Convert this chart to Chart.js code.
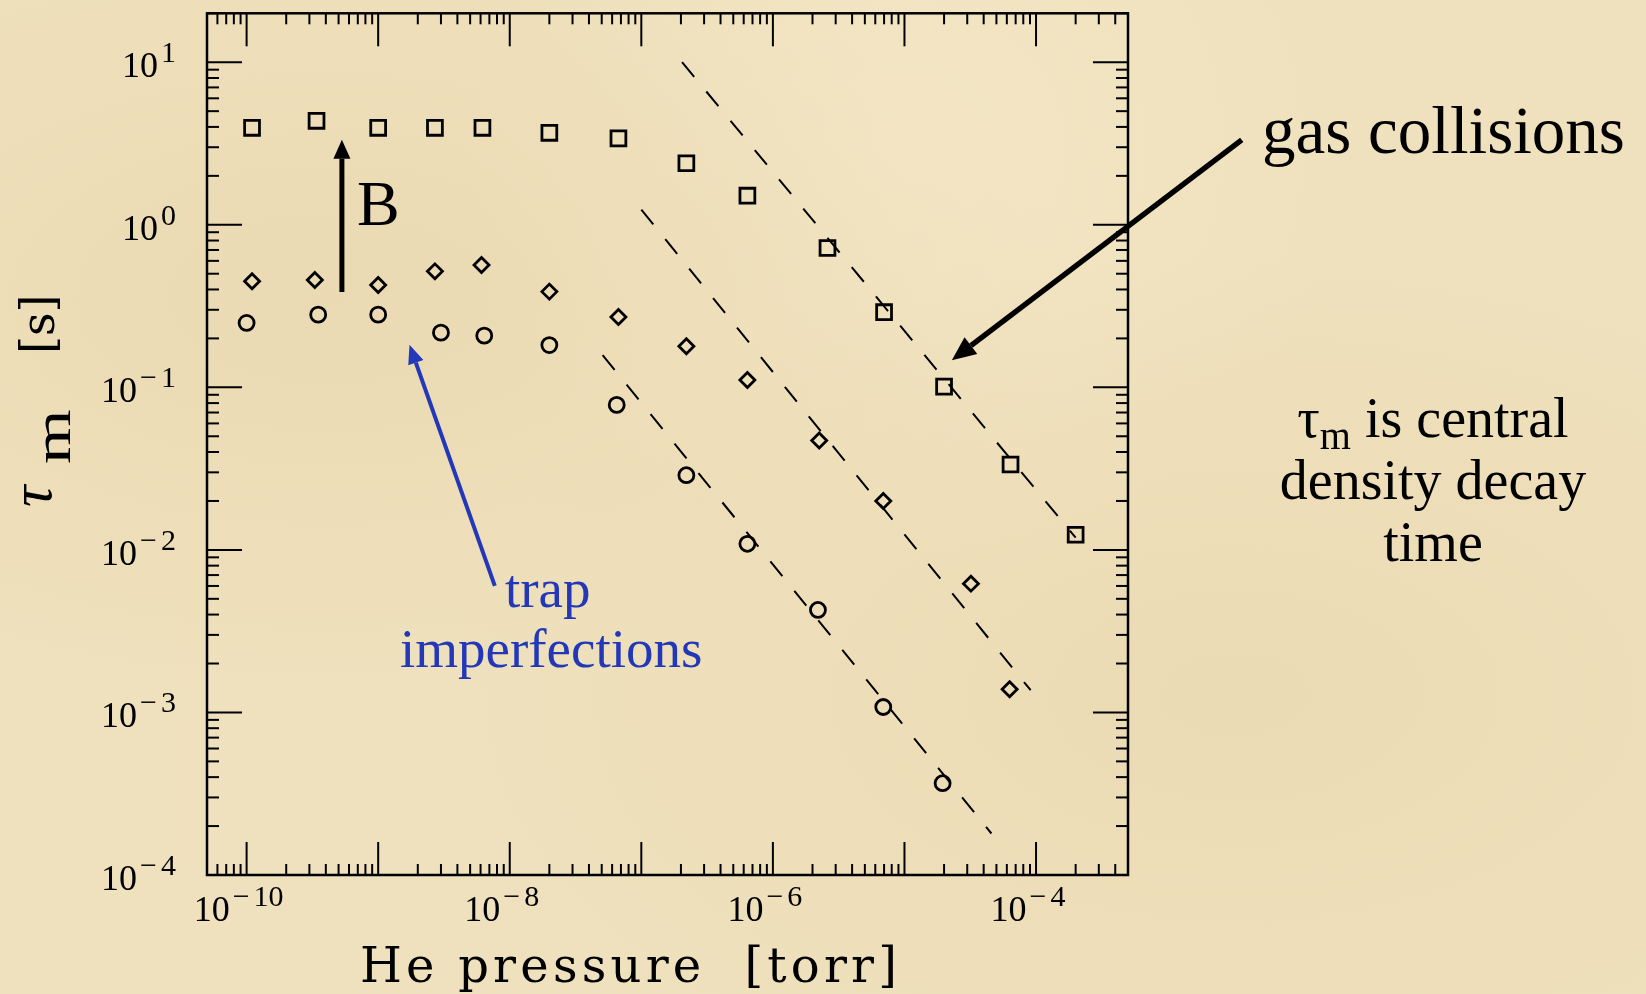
<!DOCTYPE html>
<html lang="en">
<head>
<meta charset="UTF-8">
<title>Decay time vs He pressure</title>
<style>
  html, body {
    margin: 0;
    padding: 0;
    background-color: #eee0bb;
  }
  #wrap {
    width: 1646px;
    height: 994px;
    background:
      radial-gradient(ellipse at 20% 30%, rgba(226, 204, 160, 0.35), transparent 40%),
      radial-gradient(ellipse at 75% 70%, rgba(226, 204, 160, 0.30), transparent 45%),
      radial-gradient(ellipse at 55% 15%, rgba(248, 236, 205, 0.45), transparent 35%),
      #efe1bd;
  }
  canvas { display: block; }
</style>
<script src="https://cdn.jsdelivr.net/npm/chart.js"></script>
</head>
<body>
<div id="wrap"><canvas id="tauChart" width="1646" height="994"></canvas></div>
<script>
// tau_m [s] against He pressure [torr], three field settings
const squareP   = [1.1e-10, 3.4e-10, 1.0e-9, 2.7e-9, 6.2e-9, 2.0e-8, 6.7e-8, 2.2e-7, 6.4e-7, 2.6e-6, 7.0e-6, 2.0e-5, 6.4e-5, 2.0e-4];
const squareTau = [3.95, 4.36, 3.95, 3.95, 3.95, 3.68, 3.40, 2.39, 1.51, 0.72, 0.29, 0.101, 0.0335, 0.0124];

const diamondP   = [1.1e-10, 3.3e-10, 1.0e-9, 2.7e-9, 6.1e-9, 2.0e-8, 6.7e-8, 2.2e-7, 6.4e-7, 2.25e-6, 6.9e-6, 3.2e-5, 6.3e-5];
const diamondTau = [0.449, 0.457, 0.426, 0.517, 0.565, 0.388, 0.271, 0.179, 0.111, 0.0471, 0.020, 0.0062, 0.00139];

const circleP   = [1.0e-10, 3.5e-10, 1.0e-9, 3.0e-9, 6.4e-9, 2.0e-8, 6.5e-8, 2.2e-7, 6.4e-7, 2.2e-6, 6.9e-6, 1.95e-5];
const circleTau = [0.249, 0.280, 0.280, 0.217, 0.208, 0.182, 0.078, 0.0288, 0.0109, 0.00427, 0.00108, 0.000367];

// 1/P gas-collision lines (end points)
const fitSquareP = [2.04e-7, 2.0e-4],  fitSquareTau = [10, 0.0119];
const fitDiamondP = [1.0e-7, 9.1e-5],  fitDiamondTau = [1.24, 0.00137];
const fitCircleP = [5.08e-8, 4.58e-5], fitCircleTau = [0.158, 0.00018];

// axis ranges and labelled decades
const xRange = [5e-11, 5e-4];
const yRange = [1e-4, 20];
const xLabelExps = [-10, -8, -6, -4];
const yLabelExps = [-4, -3, -2, -1, 0, 1];

// annotation arrows, in data units
const arrowB = [[5.3e-10, 0.386], [5.3e-10, 3.33]];
const arrowTrap = [[7.7e-9, 0.0060], [1.73e-9, 0.183]];
const arrowGas = [[3.66e-3, 3.33], [2.29e-5, 0.147]];

const SERIF = '"Liberation Serif", "Times New Roman", serif';
const SLAB = '"DejaVu Serif", serif';

function pts(xs, ys) {
  return xs.map((v, i) => ({ x: v, y: ys[i] }));
}

function fitLine(xs, ys) {
  return {
    data: pts(xs, ys),
    showLine: true,
    borderColor: '#000',
    borderWidth: 2,
    borderDash: [19, 19],
    pointRadius: 0,
    fill: false
  };
}

function marker(xs, ys, style, r) {
  return {
    data: pts(xs, ys),
    showLine: false,
    pointStyle: style,
    pointRadius: r,
    pointBorderWidth: 2.8,
    pointBorderColor: '#000',
    pointBackgroundColor: 'rgba(0,0,0,0)'
  };
}

function line(ctx, x1, y1, x2, y2) {
  ctx.beginPath();
  ctx.moveTo(x1, y1);
  ctx.lineTo(x2, y2);
  ctx.stroke();
}

function arrow(ctx, x1, y1, x2, y2, lw, headLen, headW, color) {
  const ang = Math.atan2(y2 - y1, x2 - x1);
  const bx = x2 - headLen * Math.cos(ang), by = y2 - headLen * Math.sin(ang);
  ctx.strokeStyle = color;
  ctx.fillStyle = color;
  ctx.lineWidth = lw;
  line(ctx, x1, y1, bx, by);
  ctx.beginPath();
  ctx.moveTo(x2, y2);
  ctx.lineTo(bx + headW / 2 * Math.sin(ang), by - headW / 2 * Math.cos(ang));
  ctx.lineTo(bx - headW / 2 * Math.sin(ang), by + headW / 2 * Math.cos(ang));
  ctx.closePath();
  ctx.fill();
}

// "10" with a raised exponent; the minus gets a little extra room
function powerLabel(ctx, exp, x, base, align) {
  const main = '10';
  const neg = exp < 0;
  const digits = String(Math.abs(exp));
  ctx.font = '36px ' + SERIF;
  const mw = ctx.measureText(main).width;
  ctx.font = '30px ' + SERIF;
  const minusW = neg ? ctx.measureText('\u2212').width + 4 : 0;
  const dw = ctx.measureText(digits).width;
  const total = mw + 3 + minusW + dw;
  const left = align === 'right' ? x - total : x - total / 2;
  ctx.textAlign = 'left';
  ctx.font = '36px ' + SERIF;
  ctx.fillText(main, left, base);
  ctx.font = '30px ' + SERIF;
  if (neg) ctx.fillText('\u2212', left + mw + 3, base - 15);
  ctx.fillText(digits, left + mw + 3 + minusW, base - 15);
}

// text spread out to a given width, one glyph at a time
function spacedText(ctx, text, left, base, width) {
  const chars = [...text];
  const widths = chars.map(c => ctx.measureText(c).width);
  const natural = widths.reduce((a, b) => a + b, 0);
  const gap = (width - natural) / (chars.length - 1);
  let x = left;
  chars.forEach((c, i) => {
    ctx.fillText(c, x, base);
    x += widths[i] + gap;
  });
}

function rotatedText(ctx, text, font, baseX, startY, stretch) {
  ctx.save();
  ctx.font = font;
  ctx.translate(baseX, startY);
  ctx.rotate(-Math.PI / 2);
  if (stretch) ctx.scale(stretch, 1);
  ctx.textAlign = 'left';
  ctx.fillText(text, 0, 0);
  ctx.restore();
}

const axesPlugin = {
  id: 'boxAxes',
  afterDatasetsDraw(chart) {
    const { ctx, chartArea: a, scales: { x, y } } = chart;
    ctx.save();
    ctx.strokeStyle = '#000';
    ctx.fillStyle = '#000';

    // tick marks on all four sides, pointing inwards
    ctx.lineWidth = 2;
    for (let d = -11; d <= -3; d++) {
      for (let k = 1; k <= 9; k++) {
        const v = k * Math.pow(10, d);
        if (v < xRange[0] * 0.999 || v > xRange[1] * 1.001) continue;
        const px = x.getPixelForValue(v);
        const len = k === 1 ? 33 : 11;
        line(ctx, px, a.bottom, px, a.bottom - len);
        line(ctx, px, a.top, px, a.top + len);
      }
    }
    for (let d = -4; d <= 1; d++) {
      for (let k = 1; k <= 9; k++) {
        const v = k * Math.pow(10, d);
        if (v < yRange[0] * 0.999 || v > yRange[1] * 1.001) continue;
        const py = y.getPixelForValue(v);
        const len = k === 1 ? 35 : 12;
        line(ctx, a.left, py, a.left + len, py);
        line(ctx, a.right, py, a.right - len, py);
      }
    }

    // frame
    ctx.lineWidth = 2.5;
    ctx.strokeRect(a.left, a.top, a.right - a.left, a.bottom - a.top);

    // tick labels
    xLabelExps.forEach(e => {
      powerLabel(ctx, e, x.getPixelForValue(Math.pow(10, e)) - 8, a.bottom + 46, 'center');
    });
    yLabelExps.forEach(e => {
      powerLabel(ctx, e, a.left - 31, y.getPixelForValue(Math.pow(10, e)) + 15, 'right');
    });

    // axis titles
    ctx.font = '48px ' + SLAB;
    ctx.textAlign = 'left';
    spacedText(ctx, 'He pressure  [torr]', 360, 982, 537);

    rotatedText(ctx, '\u03c4', 'italic 60px ' + SERIF, 51, 507);
    rotatedText(ctx, 'm', '52px ' + SERIF, 70, 464, 1.35);
    rotatedText(ctx, '[s]', '46px ' + SLAB, 54, 354);

    // arrows
    const p = v => [x.getPixelForValue(v[0]), y.getPixelForValue(v[1])];
    let s = p(arrowB[0]), t = p(arrowB[1]);
    arrow(ctx, s[0], s[1], t[0], t[1], 5, 19, 17, '#000');
    s = p(arrowTrap[0]); t = p(arrowTrap[1]);
    arrow(ctx, s[0], s[1], t[0], t[1], 4, 19, 16, '#2238b8');
    s = p(arrowGas[0]); t = p(arrowGas[1]);
    arrow(ctx, s[0], s[1], t[0], t[1], 5.5, 24, 21, '#000');

    // slide text
    ctx.fillStyle = '#000';
    ctx.textAlign = 'left';
    ctx.font = '64px ' + SERIF;
    ctx.fillText('B', 357, 225);

    ctx.font = '67px ' + SERIF;
    ctx.fillText('gas collisions', 1262, 153);

    ctx.fillStyle = '#2238b8';
    ctx.font = '55px ' + SERIF;
    ctx.fillText('trap', 505, 607);
    ctx.fillText('imperfections', 400, 667);

    ctx.fillStyle = '#000';
    ctx.font = '56px ' + SERIF;
    const cx = 1433;
    const tau = '\u03c4', rest = ' is central';
    const tw = ctx.measureText(tau).width, rw = ctx.measureText(rest).width;
    ctx.font = '40px ' + SERIF;
    const mw = ctx.measureText('m').width;
    const l0 = cx - (tw + mw + rw) / 2;
    ctx.font = '56px ' + SERIF;
    ctx.fillText(tau, l0, 437);
    ctx.fillText(rest, l0 + tw + mw, 437);
    ctx.font = '40px ' + SERIF;
    ctx.fillText('m', l0 + tw, 449);
    ctx.font = '56px ' + SERIF;
    ctx.textAlign = 'center';
    ctx.fillText('density decay', cx, 499);
    ctx.fillText('time', cx, 561);

    ctx.restore();
  }
};

new Chart(document.getElementById('tauChart'), {
  type: 'scatter',
  data: {
    datasets: [
      fitLine(fitSquareP, fitSquareTau),
      fitLine(fitDiamondP, fitDiamondTau),
      fitLine(fitCircleP, fitCircleTau),
      marker(squareP, squareTau, 'rect', 10.5),
      marker(diamondP, diamondTau, 'rectRot', 7.5),
      marker(circleP, circleTau, 'circle', 7.5)
    ]
  },
  options: {
    responsive: false,
    animation: false,
    devicePixelRatio: 1,
    layout: { padding: { left: 207, right: 518, top: 7, bottom: 119 } },
    plugins: { legend: { display: false }, tooltip: { enabled: false } },
    scales: {
      x: { type: 'logarithmic', min: xRange[0], max: xRange[1], display: false },
      y: { type: 'logarithmic', min: yRange[0], max: yRange[1], display: false }
    }
  },
  plugins: [axesPlugin]
});
</script>
</body>
</html>
